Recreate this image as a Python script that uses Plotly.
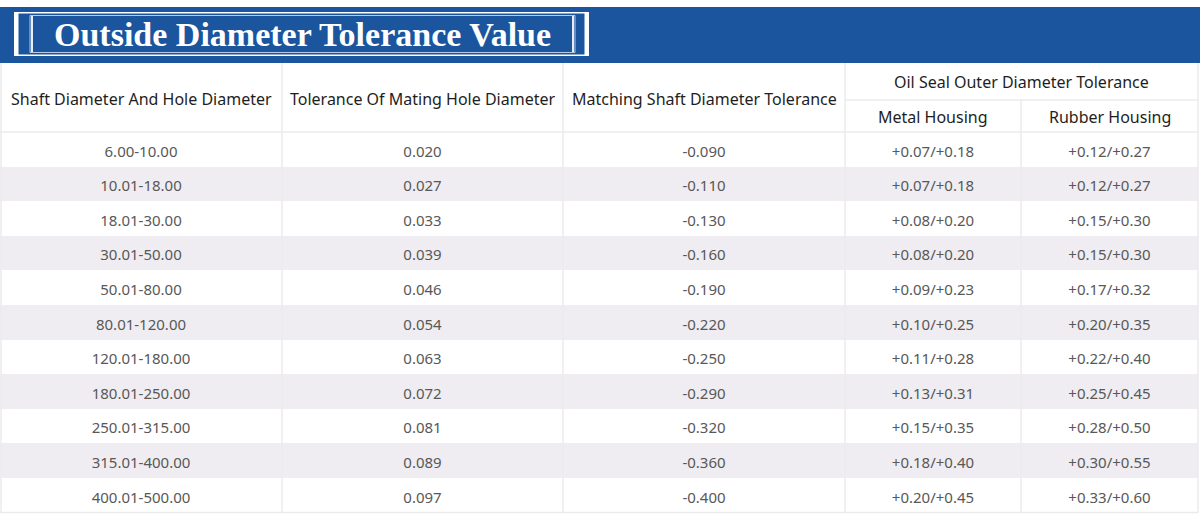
import plotly.graph_objects as go

# ---- data ----
title_text = "Outside Diameter Tolerance Value"
col_headers = ["Shaft Diameter And Hole Diameter",
               "Tolerance Of Mating Hole Diameter",
               "Matching Shaft Diameter Tolerance"]
group_header = "Oil Seal Outer Diameter Tolerance"
sub_headers = ["Metal Housing", "Rubber Housing"]

shaft_range = ["6.00-10.00", "10.01-18.00", "18.01-30.00", "30.01-50.00", "50.01-80.00",
               "80.01-120.00", "120.01-180.00", "180.01-250.00", "250.01-315.00",
               "315.01-400.00", "400.01-500.00"]
hole_tol = ["0.020", "0.027", "0.033", "0.039", "0.046", "0.054", "0.063", "0.072",
            "0.081", "0.089", "0.097"]
shaft_tol = ["-0.090", "-0.110", "-0.130", "-0.160", "-0.190", "-0.220", "-0.250",
             "-0.290", "-0.320", "-0.360", "-0.400"]
metal_housing = ["+0.07/+0.18", "+0.07/+0.18", "+0.08/+0.20", "+0.08/+0.20", "+0.09/+0.23",
                 "+0.10/+0.25", "+0.11/+0.28", "+0.13/+0.31", "+0.15/+0.35", "+0.18/+0.40",
                 "+0.20/+0.45"]
rubber_housing = ["+0.12/+0.27", "+0.12/+0.27", "+0.15/+0.30", "+0.15/+0.30", "+0.17/+0.32",
                  "+0.20/+0.35", "+0.22/+0.40", "+0.25/+0.45", "+0.28/+0.50", "+0.30/+0.55",
                  "+0.33/+0.60"]

columns = [shaft_range, hole_tol, shaft_tol, metal_housing, rubber_housing]

# ---- layout geometry (pixels) ----
W, H = 1200, 520
col_edges = [0, 282, 563, 845, 1021, 1198]
band_top, band_bot = 7, 63
head_top, head_mid, head_bot = 63, 100, 132
row_h = 34.6
n = len(shaft_range)
row_edges = [head_bot + i * row_h for i in range(n + 1)]
row_centers = [(row_edges[i] + row_edges[i + 1]) / 2 + 3.5 for i in range(n)]
col_centers = [(col_edges[j] + col_edges[j + 1]) / 2 for j in range(len(col_edges) - 1)]

BLUE = "#1b559e"
STRIPE = "#efedf1"
GRID = "#ebebeb"
HEAD_FONT = "Noto Sans"

fig = go.Figure()

# striped body
z = [[i % 2] * len(columns) for i in range(n)]
fig.add_trace(go.Heatmap(
    x=col_edges, y=row_edges, z=z, zmin=0, zmax=1,
    colorscale=[[0, "#ffffff"], [1, STRIPE]], showscale=False, hoverinfo="skip"))

# body text
for j, col in enumerate(columns):
    fig.add_trace(go.Scatter(
        x=[col_centers[j]] * n, y=row_centers, text=col, mode="text",
        textposition="middle center", hoverinfo="skip", showlegend=False,
        textfont=dict(family=HEAD_FONT, size=15, color="#585858")))

shapes = []
# blue band
shapes.append(dict(type="rect", x0=0, x1=W, y0=band_top, y1=band_bot,
                   fillcolor=BLUE, line=dict(width=0), layer="below"))
# title frame
shapes.append(dict(type="rect", x0=14, x1=589, y0=12, y1=56,
                   fillcolor="#ffffff", line=dict(width=0), layer="above"))
shapes.append(dict(type="rect", x0=18.5, x1=584.5, y0=13.5, y1=54.5,
                   fillcolor=BLUE, line=dict(width=0), layer="above"))
shapes.append(dict(type="rect", x0=30, x1=575, y0=15.5, y1=52.5,
                   fillcolor="rgba(0,0,0,0)", line=dict(width=1, color="#b9cbe6"), layer="above"))
for xv in (32, 573):
    shapes.append(dict(type="line", x0=xv, x1=xv, y0=16, y1=52,
                       line=dict(width=2, color="#e6eef8"), layer="above"))

# grid lines
for xv in col_edges[1:4]:
    shapes.append(dict(type="line", x0=xv, x1=xv, y0=head_top, y1=row_edges[-1],
                       line=dict(width=1.5, color=GRID), layer="above"))
shapes.append(dict(type="line", x0=col_edges[4], x1=col_edges[4], y0=head_mid, y1=row_edges[-1],
                   line=dict(width=1.5, color=GRID), layer="above"))
shapes.append(dict(type="line", x0=col_edges[5], x1=col_edges[5], y0=head_top, y1=row_edges[-1],
                   line=dict(width=1.5, color=GRID), layer="above"))
shapes.append(dict(type="line", x0=1, x1=1, y0=head_top, y1=row_edges[-1],
                   line=dict(width=1.5, color=GRID), layer="above"))
shapes.append(dict(type="line", x0=col_edges[3], x1=col_edges[5], y0=head_mid, y1=head_mid,
                   line=dict(width=1.5, color=GRID), layer="above"))
shapes.append(dict(type="line", x0=0, x1=col_edges[5], y0=head_bot, y1=head_bot,
                   line=dict(width=1.5, color=GRID), layer="above"))
shapes.append(dict(type="line", x0=0, x1=col_edges[5], y0=row_edges[-1], y1=row_edges[-1],
                   line=dict(width=1.5, color=GRID), layer="above"))

annotations = []
annotations.append(dict(x=302, y=34, xref="x", yref="y", text="<b>" + title_text + "</b>",
                        showarrow=False, xanchor="center", yanchor="middle",
                        font=dict(family="Liberation Serif", size=34, color="#ffffff")))
for j, t in enumerate(col_headers):
    annotations.append(dict(x=col_centers[j], y=99, xref="x", yref="y", text=t, showarrow=False,
                            xanchor="center", yanchor="middle",
                            font=dict(family=HEAD_FONT, size=16, color="#1e1e1e")))
annotations.append(dict(x=(col_edges[3] + col_edges[5]) / 2, y=81.5, xref="x", yref="y",
                        text=group_header, showarrow=False, xanchor="center", yanchor="middle",
                        font=dict(family=HEAD_FONT, size=16, color="#1e1e1e")))
for k, t in enumerate(sub_headers):
    annotations.append(dict(x=col_centers[3 + k], y=117, xref="x", yref="y", text=t,
                            showarrow=False, xanchor="center", yanchor="middle",
                            font=dict(family=HEAD_FONT, size=16, color="#1e1e1e")))

fig.update_layout(
    width=W, height=H, margin=dict(l=0, r=0, t=0, b=0),
    paper_bgcolor="#ffffff", plot_bgcolor="#ffffff",
    xaxis=dict(range=[0, W], visible=False, fixedrange=True),
    yaxis=dict(range=[H, 0], visible=False, fixedrange=True),
    shapes=shapes, annotations=annotations, showlegend=False,
)

fig.write_html("out.html", config={"displayModeBar": False, "staticPlot": True},
               post_script="document.body.style.margin='0px';")
